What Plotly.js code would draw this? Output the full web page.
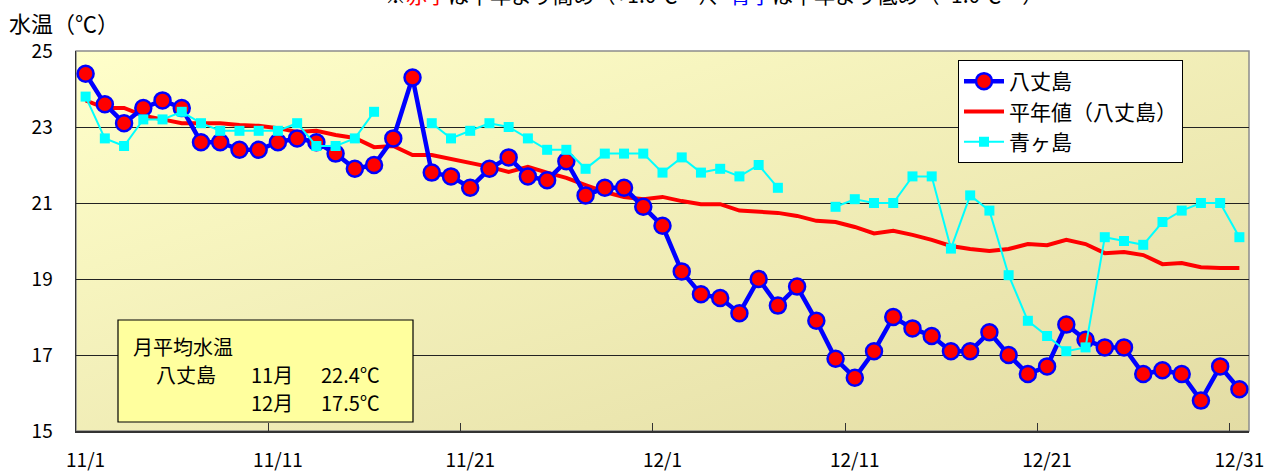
<!DOCTYPE html>
<html>
<head>
<meta charset="utf-8">
<script src="https://cdn.plot.ly/plotly-3.0.1.min.js"></script>
<style>
html,body{margin:0;padding:0;background:#fff;}
#chart{width:1270px;height:475px;}
</style>
</head>
<body>
<div id="chart"></div>
<script>
// ---- data ----
const dayLabels = [
 "11/1","11/2","11/3","11/4","11/5","11/6","11/7","11/8","11/9","11/10",
 "11/11","11/12","11/13","11/14","11/15","11/16","11/17","11/18","11/19","11/20",
 "11/21","11/22","11/23","11/24","11/25","11/26","11/27","11/28","11/29","11/30",
 "12/1","12/2","12/3","12/4","12/5","12/6","12/7","12/8","12/9","12/10",
 "12/11","12/12","12/13","12/14","12/15","12/16","12/17","12/18","12/19","12/20",
 "12/21","12/22","12/23","12/24","12/25","12/26","12/27","12/28","12/29","12/30","12/31"
];
const hachijo = [
 24.4,23.6,23.1,23.5,23.7,23.5,22.6,22.6,22.4,22.4,
 22.6,22.7,22.6,22.3,21.9,22.0,22.7,24.3,21.8,21.7,
 21.4,21.9,22.2,21.7,21.6,22.1,21.2,21.4,21.4,20.9,
 20.4,19.2,18.6,18.5,18.1,19.0,18.3,18.8,17.9,16.9,
 16.4,17.1,18.0,17.7,17.5,17.1,17.1,17.6,17.0,16.5,
 16.7,17.8,17.4,17.2,17.2,16.5,16.6,16.5,15.8,16.7,16.1
];
const normal = [
 23.7,23.5,23.5,23.3,23.2,23.1,23.1,23.1,23.05,23.03,
 22.97,22.87,22.9,22.79,22.71,22.47,22.5,22.26,22.26,22.16,
 22.05,21.95,21.82,21.95,21.8,21.66,21.47,21.29,21.16,21.1,
 21.16,21.05,20.97,20.97,20.8,20.76,20.74,20.66,20.53,20.5,
 20.37,20.2,20.27,20.16,20.03,19.87,19.79,19.74,19.79,19.92,
 19.89,20.03,19.92,19.68,19.71,19.63,19.39,19.42,19.31,19.29,19.29
];
const aogashima = [
 23.8,22.7,22.5,23.2,23.2,23.4,23.1,22.9,22.9,22.9,
 22.9,23.1,22.5,22.5,22.7,23.4,null,null,23.1,22.7,
 22.9,23.1,23.0,22.7,22.4,22.4,21.9,22.3,22.3,22.3,
 21.8,22.2,21.8,21.9,21.7,22.0,21.4,null,null,20.9,
 21.1,21.0,21.0,21.7,21.7,19.8,21.2,20.8,19.1,17.9,
 17.5,17.1,17.2,20.1,20.0,19.9,20.5,20.8,21.0,21.0,20.1
];
const seriesNames = ["八丈島","平年値（八丈島）","青ヶ島"];
const labelEvery = 10;
const yTicks = [15,17,19,21,23,25];
const boxLines = ["月平均水温","八丈島","11月","22.4℃","12月","17.5℃"];

// ---- derived ----
const xIdx = dayLabels.map((_, i) => i);
const tickVals = xIdx.filter(i => i % labelEvery === 0);
const tickText = tickVals.map(i => dayLabels[i]);
const boundaryTicks = tickVals.filter(i => i > 0).map(i => i - 0.5);

const numFont = "'Liberation Sans Narrow', 'Noto Sans CJK JP', sans-serif";
const jpFont = "'Noto Sans CJK JP', 'Noto Sans', sans-serif";

const bgSvg = 'data:image/svg+xml;utf8,' + encodeURIComponent(
 '<svg xmlns="http://www.w3.org/2000/svg" width="100" height="100" preserveAspectRatio="none">' +
 '<defs><linearGradient id="g" x1="0" y1="0" x2="1" y2="1">' +
 '<stop offset="0" stop-color="#FFFFCA"/><stop offset="1" stop-color="#E3DCA4"/>' +
 '</linearGradient></defs><rect width="100" height="100" fill="url(#g)"/></svg>');

const traces = [
 {
  x: xIdx, y: normal, name: seriesNames[1], type: 'scatter', mode: 'lines',
  line: {color: '#FF0000', width: 4}, legendrank: 2, hoverinfo: 'skip'
 },
 {
  x: xIdx, y: hachijo, name: seriesNames[0], type: 'scatter', mode: 'lines+markers',
  line: {color: '#0000FF', width: 4.5},
  marker: {symbol: 'circle', size: 16, color: '#FF0000', line: {color: '#0000FF', width: 2.5}},
  legendrank: 1, hoverinfo: 'skip'
 },
 {
  x: xIdx, y: aogashima, name: seriesNames[2], type: 'scatter', mode: 'lines+markers',
  line: {color: '#00FFFF', width: 2},
  marker: {symbol: 'square', size: 10, color: '#00FFFF'},
  connectgaps: false, legendrank: 3, hoverinfo: 'skip'
 }
];

const L = 76, T = 51, W = 1173, H = 380;
const px = x => (x - L) / W;
const py = y => 1 - (y - T) / H;

const layout = {
 width: 1270, height: 475,
 margin: {l: L, r: 1270 - L - W, t: T, b: 475 - T - H, pad: 0},
 paper_bgcolor: '#FFFFFF',
 plot_bgcolor: 'rgba(0,0,0,0)',
 showlegend: true,
 legend: {
  x: px(958), y: py(60), xanchor: 'left', yanchor: 'top',
  bgcolor: '#FFFFFF', bordercolor: '#000000', borderwidth: 1,
  font: {family: jpFont, size: 21, color: '#000'},
  tracegroupgap: 0, itemwidth: 40
 },
 xaxis: {
  range: [-0.5, dayLabels.length - 0.5],
  tickmode: 'array', tickvals: tickVals, ticktext: tickText,
  ticks: '', ticklabelstandoff: 12,
  tickfont: {family: numFont, size: 19, color: '#000'},
  showgrid: false, zeroline: false,
  showline: true, linecolor: '#333333', linewidth: 1.5,
  minor: {tickmode: 'array', tickvals: boundaryTicks, ticks: 'inside', ticklen: 8, tickcolor: '#333333', tickwidth: 1, showgrid: false},
  fixedrange: true
 },
 yaxis: {
  range: [15, 25], tickmode: 'array', tickvals: yTicks,
  ticks: '', ticklabelstandoff: 18,
  tickfont: {family: numFont, size: 19, color: '#000'},
  showgrid: true, gridcolor: '#222222', gridwidth: 1,
  zeroline: false, showline: true, linecolor: '#333333', linewidth: 1.5,
  fixedrange: true
 },
 images: [{
  source: bgSvg, xref: 'paper', yref: 'paper', x: 0, y: 1, sizex: 1, sizey: 1,
  xanchor: 'left', yanchor: 'top', sizing: 'stretch', layer: 'below'
 }],
 shapes: [
  {type: 'rect', xref: 'paper', yref: 'paper', x0: 0, x1: 1, y0: 0, y1: 1,
   line: {color: '#8C8C8C', width: 1.5}, fillcolor: 'rgba(0,0,0,0)', layer: 'below'},
  {type: 'rect', xref: 'paper', yref: 'paper', x0: px(118), x1: px(413), y0: py(422), y1: py(320),
   line: {color: '#000000', width: 1.2}, fillcolor: '#FFFF9E', layer: 'above'}
 ],
 annotations: [
  {xref: 'paper', yref: 'paper', x: px(7), y: py(22), xanchor: 'left', yanchor: 'middle',
   text: '水温（℃）', showarrow: false, font: {family: jpFont, size: 22, color: '#000'}},
  {xref: 'paper', yref: 'paper', x: px(383), y: py(-6), xanchor: 'left', yanchor: 'middle',
   text: '※<span style="color:#FF0000">赤字</span>は平年より高め（+1.0℃～）、<span style="color:#0000FF">青字</span>は平年より低め（−1.0℃～）',
   showarrow: false, font: {family: jpFont, size: 21, color: '#000'}},
  {xref: 'paper', yref: 'paper', x: px(131), y: py(346), xanchor: 'left', yanchor: 'middle',
   text: boxLines[0], showarrow: false, font: {family: jpFont, size: 20, color: '#000'}},
  {xref: 'paper', yref: 'paper', x: px(154), y: py(374), xanchor: 'left', yanchor: 'middle',
   text: boxLines[1], showarrow: false, font: {family: jpFont, size: 20, color: '#000'}},
  {xref: 'paper', yref: 'paper', x: px(249), y: py(374), xanchor: 'left', yanchor: 'middle',
   text: boxLines[2], showarrow: false, font: {family: numFont, size: 20, color: '#000'}},
  {xref: 'paper', yref: 'paper', x: px(319), y: py(374), xanchor: 'left', yanchor: 'middle',
   text: boxLines[3], showarrow: false, font: {family: numFont, size: 20, color: '#000'}},
  {xref: 'paper', yref: 'paper', x: px(249), y: py(402), xanchor: 'left', yanchor: 'middle',
   text: boxLines[4], showarrow: false, font: {family: numFont, size: 20, color: '#000'}},
  {xref: 'paper', yref: 'paper', x: px(319), y: py(402), xanchor: 'left', yanchor: 'middle',
   text: boxLines[5], showarrow: false, font: {family: numFont, size: 20, color: '#000'}}
 ]
};

Plotly.newPlot('chart', traces, layout, {displayModeBar: false, staticPlot: true});
</script>
</body>
</html>
